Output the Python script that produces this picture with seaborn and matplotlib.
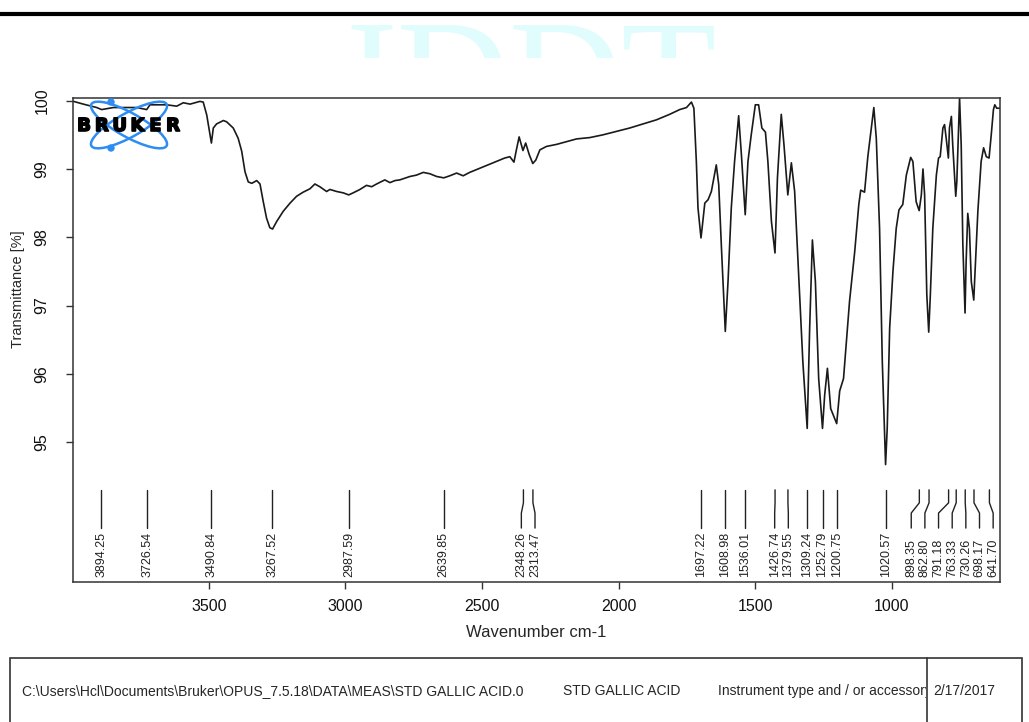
import numpy as np
import pandas as pd
import matplotlib
matplotlib.use("Agg")
import matplotlib.pyplot as plt
import matplotlib.patheffects as pe
import seaborn as sns
from matplotlib.patches import Ellipse, Circle, Rectangle
from matplotlib.lines import Line2D
from matplotlib.transforms import Bbox, TransformedBbox

# spectrum (cm-1, %T), high to low wavenumber
wavenumber = [
    3996, 3960, 3911, 3893, 3850, 3764, 3728, 3716, 3655, 3618, 3594, 3569,
    3533, 3521, 3508, 3491, 3484, 3472, 3447, 3435, 3411, 3393, 3380, 3368,
    3356, 3343, 3325, 3313, 3301, 3289, 3277, 3267, 3252, 3228, 3203, 3179,
    3155, 3130, 3112, 3094, 3069, 3057, 3032, 3008, 2988, 2972, 2947, 2923,
    2904, 2886, 2856, 2837, 2819, 2801, 2764, 2740, 2715, 2691, 2666, 2640,
    2618, 2593, 2569, 2545, 2521, 2484, 2447, 2417, 2398, 2383, 2374, 2364,
    2350, 2340, 2327, 2314, 2303, 2288, 2264, 2227, 2191, 2154, 2105, 2057,
    2008, 1959, 1910, 1861, 1813, 1776, 1751, 1733, 1724, 1715, 1709, 1698,
    1694, 1684, 1672, 1660, 1642, 1633, 1623, 1609, 1599, 1587, 1575, 1560,
    1550, 1536, 1526, 1514, 1499, 1487, 1475, 1462, 1453, 1440, 1427, 1418,
    1404, 1394, 1380, 1367, 1355, 1337, 1325, 1309, 1300, 1290, 1279, 1267,
    1253, 1245, 1235, 1223, 1201, 1190, 1176, 1154, 1135, 1120, 1113, 1099,
    1087, 1065, 1056, 1044, 1034, 1022, 1016, 1007, 995, 983, 973, 959,
    946, 930, 922, 910, 899, 891, 885, 879, 871, 864, 858, 849,
    836, 828, 822, 812, 806, 800, 792, 788, 781, 776, 765, 761,
    751, 745, 739, 731, 727, 721, 715, 708, 699, 696, 684, 672,
    663, 653, 643, 635, 627, 622, 615, 604,
]
transmittance = [
    99.99, 99.95, 99.90, 99.87, 99.90, 99.90, 99.87, 99.94, 99.94, 99.92, 99.97, 99.95,
    99.99, 99.98, 99.79, 99.38, 99.60, 99.66, 99.71, 99.69, 99.60, 99.45, 99.26, 98.96,
    98.81, 98.79, 98.83, 98.78, 98.52, 98.28, 98.14, 98.12, 98.23, 98.38, 98.50, 98.60,
    98.66, 98.71, 98.78, 98.74, 98.67, 98.70, 98.67, 98.65, 98.62, 98.65, 98.70, 98.76,
    98.74, 98.78, 98.84, 98.80, 98.83, 98.84, 98.89, 98.91, 98.95, 98.93, 98.89, 98.87,
    98.90, 98.94, 98.90, 98.95, 98.99, 99.05, 99.11, 99.16, 99.18, 99.10, 99.28, 99.47,
    99.27, 99.38, 99.21, 99.08, 99.13, 99.28, 99.33, 99.36, 99.40, 99.44, 99.46, 99.50,
    99.55, 99.60, 99.66, 99.72, 99.80, 99.87, 99.90, 99.98, 99.89, 99.11, 98.43, 97.99,
    98.13, 98.50, 98.55, 98.67, 99.06, 98.77, 97.84, 96.62, 97.35, 98.43, 99.11, 99.78,
    99.21, 98.33, 99.11, 99.50, 99.94, 99.94, 99.60, 99.54, 99.11, 98.23, 97.77, 98.87,
    99.80, 99.35, 98.62, 99.09, 98.67, 97.16, 96.18, 95.20, 96.67, 97.96, 97.35, 95.93,
    95.20, 95.69, 96.08, 95.49, 95.27, 95.75, 95.93, 97.06, 97.79, 98.48, 98.69, 98.66,
    99.18, 99.90, 99.45, 98.13, 96.18, 94.67, 95.20, 96.67, 97.50, 98.13, 98.40, 98.48,
    98.91, 99.17, 99.11, 98.52, 98.39, 98.62, 99.00, 98.62, 97.16, 96.61, 97.16, 98.13,
    98.91, 99.16, 99.18, 99.60, 99.65, 99.45, 99.16, 99.60, 99.77, 99.35, 98.60, 98.82,
    100.04, 99.35, 97.89, 96.89, 97.64, 98.35, 98.13, 97.35, 97.08, 97.35, 98.38, 99.11,
    99.31, 99.18, 99.16, 99.50, 99.87, 99.94, 99.89, 99.89,
]

# labelled peak positions
peaks = [3894.25, 3726.54, 3490.84, 3267.52, 2987.59, 2639.85, 2348.26, 2313.47,
         1697.22, 1608.98, 1536.01, 1426.74, 1379.55, 1309.24, 1252.79, 1200.75,
         1020.57, 898.35, 862.80, 791.18, 763.33, 730.26, 698.17, 641.70]

x_ticks = [3500, 3000, 2500, 2000, 1500, 1000]
y_ticks = [95, 96, 97, 98, 99, 100]

file_path = r"C:\Users\Hcl\Documents\Bruker\OPUS_7.5.18\DATA\MEAS\STD GALLIC ACID.0"
sample_name = "STD GALLIC ACID"
instrument = "Instrument type and / or accessory"
meas_date = "2/17/2017"


def spread_labels(pos, gap, lo):
    # push crowded labels apart, keep groups centred on their peaks
    groups = [[p] for p in sorted(pos)]
    while True:
        placed = []
        for g in groups:
            start = max(np.mean(g) - gap * (len(g) - 1) / 2, lo)
            placed.append([start + gap * i for i in range(len(g))])
        merged = False
        for i in range(len(groups) - 1):
            if placed[i + 1][0] - placed[i][-1] < gap:
                groups[i] = groups[i] + groups.pop(i + 1)
                merged = True
                break
        if not merged:
            break
    flat_pos = [p for g in groups for p in g]
    flat_lab = [q for g in placed for q in g]
    return dict(zip(flat_pos, flat_lab))


sns.set_style("ticks")
plt.rcParams["font.family"] = ["Liberation Sans", "DejaVu Sans"]

fig = plt.figure(figsize=(10.29, 7.22), dpi=100)
ax = fig.add_axes([0.0709, 0.1939, 0.9009, 0.6704])

spec = pd.DataFrame({"wavenumber": wavenumber, "transmittance": transmittance})
sns.lineplot(data=spec, x="wavenumber", y="transmittance", sort=False,
             estimator=None, color="#1a1a1a", linewidth=1.2, ax=ax)

ax.set_xlim(3998, 603)
ax.set_ylim(92.95, 100.04)
ax.set_xticks(x_ticks)
ax.set_yticks(y_ticks)
ax.tick_params(axis="both", direction="out", length=5, width=1, color="#333333",
               labelsize=11.5, labelcolor="#111111")
ax.tick_params(axis="x", pad=7)
ax.tick_params(axis="y", pad=12, labelrotation=90)
for lab in ax.get_yticklabels():
    lab.set_va("center")
for s in ax.spines.values():
    s.set_color("#333333")
    s.set_linewidth(1.1)

ax.set_xlabel("Wavenumber cm-1", fontsize=12)
ax.set_ylabel("Transmittance [%]", fontsize=10.5)
ax.xaxis.set_label_coords(0.5, -0.088)
ax.yaxis.set_label_coords(-0.052, 0.605)

# peak markers with spread labels
lab_pos = spread_labels(peaks, 50, 628)
for p in peaks:
    q = lab_pos[p]
    ax.plot([p, p, q, q], [94.30, 94.11, 93.96, 93.74], color="#222222", lw=1.0)
    ax.text(q, 93.02, f"{p:.2f}", rotation=90, ha="center", va="bottom",
            fontsize=9, color="#222222")

# figure decorations in pixel-based inches
tr = fig.dpi_scale_trans


def px(x, y):
    return x / 100, (722 - y) / 100


fig.add_artist(Line2D([0, 10.29], [px(0, 14)[1]] * 2, color="black", lw=3, transform=tr))

wm = fig.text(*px(531, 128), "IDDT", transform=tr, ha="center", va="baseline",
              fontsize=112, family="Liberation Serif", color="#e0fcfc", zorder=0)
wm.set_clip_box(TransformedBbox(Bbox([[3.0, px(0, 58)[1]], [7.6, px(0, 17)[1]]]), tr))

# BRUKER logo
blue = "#2e8df2"
for ang in (29, -29):
    fig.add_artist(Ellipse(px(129, 125), 0.86, 0.24, angle=ang, fill=False,
                           ec=blue, lw=1.8, transform=tr, zorder=5))
for cy in (102, 148):
    fig.add_artist(Circle(px(111, cy), 0.03, color=blue, transform=tr, zorder=5))
for i, ch in enumerate("BRUKER"):
    fig.text(*px(84 + i * 17.8, 126), ch, transform=tr, ha="center", va="center",
             fontsize=13, fontweight="bold", family="DejaVu Sans", color="black",
             zorder=6, path_effects=[pe.withStroke(linewidth=1.2, foreground="black")])

# info box at the bottom
fig.add_artist(Rectangle(px(10, 740), 10.12, 0.82, fill=False, ec="#333333",
                         lw=1.2, transform=tr))
fig.add_artist(Line2D([9.27, 9.27], [0, px(0, 658)[1]], color="#333333", lw=1.2,
                      transform=tr))
fig.text(*px(22, 691), file_path, transform=tr, va="center", fontsize=10)
fig.text(*px(563, 691), sample_name, transform=tr, va="center", fontsize=10)
it = fig.text(*px(718, 691), instrument, transform=tr, va="center", fontsize=10)
it.set_clip_box(TransformedBbox(Bbox([[7.0, 0], [9.26, 0.64]]), tr))
fig.text(*px(933, 691), meas_date, transform=tr, va="center", fontsize=10)

fig.savefig("out.png", dpi=100)
